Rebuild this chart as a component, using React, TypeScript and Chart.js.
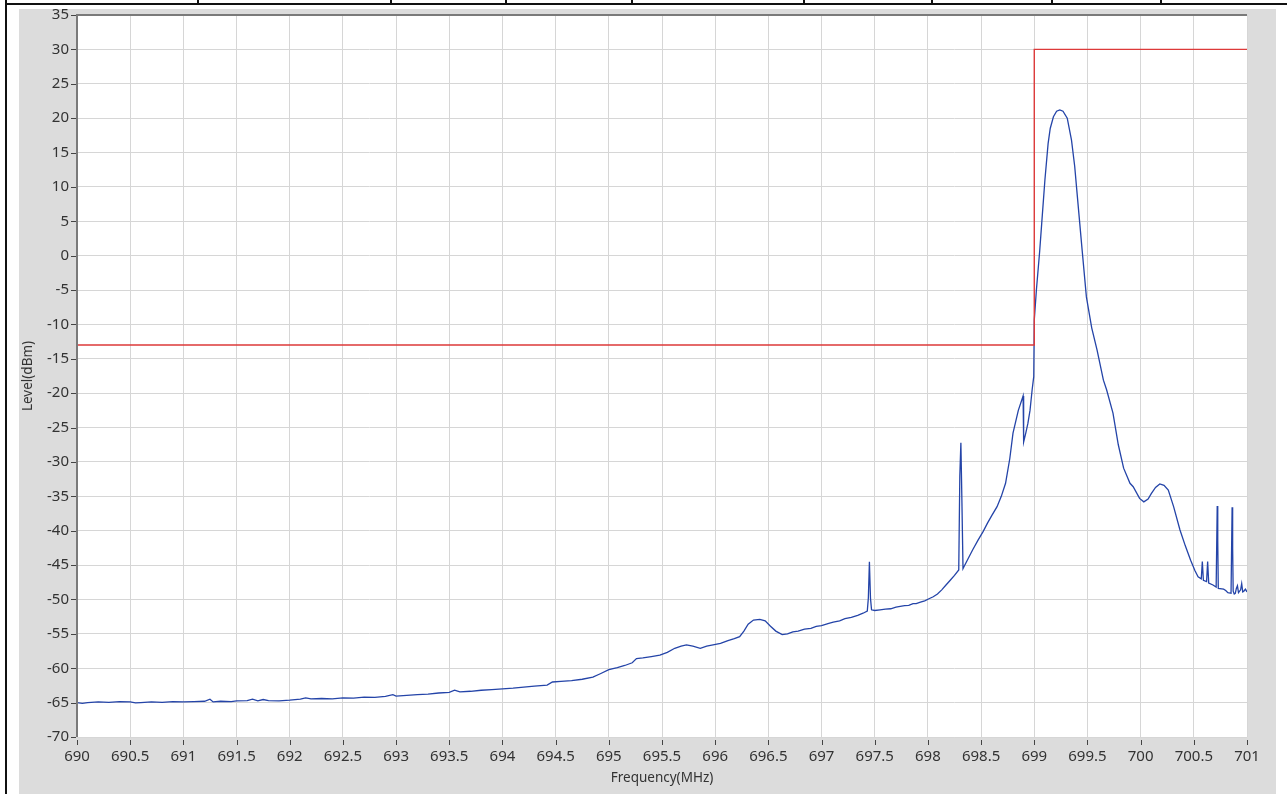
import React, { useEffect, useRef } from "react";
import { Chart, registerables } from "chart.js";

Chart.register(...registerables);

// ---- data ----
const xTickValues = [690, 690.5, 691, 691.5, 692, 692.5, 693, 693.5, 694, 694.5, 695, 695.5, 696, 696.5, 697, 697.5, 698, 698.5, 699, 699.5, 700, 700.5, 701];
const yTickValues = [35, 30, 25, 20, 15, 10, 5, 0, -5, -10, -15, -20, -25, -30, -35, -40, -45, -50, -55, -60, -65, -70];

const maskFreq = [690, 699, 699, 701];
const maskLevel = [-13, -13, 30, 30];

const specFreq = [
  690.0, 690.05, 690.1, 690.2, 690.3, 690.4, 690.5, 690.55, 690.6, 690.7, 690.8, 690.9, 691.0, 691.1, 691.2,
  691.25, 691.28, 691.35, 691.45, 691.5, 691.6, 691.65, 691.7, 691.75, 691.8, 691.9, 692.0, 692.1, 692.15, 692.2,
  692.3, 692.4, 692.5, 692.6, 692.7, 692.8, 692.9, 692.97, 693.0, 693.1, 693.2, 693.3, 693.4, 693.5, 693.55,
  693.6, 693.7, 693.8, 693.9, 694.0, 694.1, 694.2, 694.3, 694.42, 694.47, 694.55, 694.65, 694.75, 694.85, 694.92,
  695.0, 695.08, 695.15, 695.22, 695.26, 695.32, 695.4, 695.48, 695.55, 695.62, 695.68, 695.73, 695.79, 695.86, 695.92,
  695.98, 696.05, 696.12, 696.18, 696.23, 696.27, 696.31, 696.36, 696.42, 696.47, 696.52, 696.57, 696.63, 696.68, 696.73,
  696.78, 696.84, 696.9, 696.95, 697.0, 697.06, 697.11, 697.17, 697.22, 697.28, 697.34, 697.39, 697.43, 697.44, 697.45,
  697.46, 697.47, 697.5, 697.55, 697.6, 697.65, 697.7, 697.74, 697.78, 697.82, 697.86, 697.89, 697.93, 697.97, 698.01,
  698.05, 698.09, 698.13, 698.17, 698.21, 698.25, 698.29, 698.3, 698.31, 698.32, 698.33, 698.34, 698.38, 698.42, 698.47,
  698.52, 698.56, 698.6, 698.65, 698.69, 698.73, 698.77, 698.8, 698.85, 698.895, 698.9, 698.92, 698.94, 698.96, 698.98,
  698.995, 699.0, 699.02, 699.05, 699.07, 699.1, 699.13, 699.15, 699.18, 699.21, 699.24, 699.27, 699.31, 699.35, 699.38,
  699.4, 699.45, 699.49, 699.54, 699.59, 699.65, 699.68, 699.74, 699.79, 699.84, 699.9, 699.93, 699.99, 700.03, 700.07,
  700.1, 700.14, 700.18, 700.22, 700.26, 700.31, 700.37, 700.42, 700.47, 700.51, 700.54, 700.57, 700.58, 700.59, 700.62,
  700.63, 700.64, 700.68, 700.71, 700.72, 700.725, 700.73, 700.78, 700.8, 700.82, 700.85, 700.86, 700.865, 700.87, 700.88,
  700.89, 700.9, 700.91, 700.92, 700.94, 700.95, 700.96, 700.97, 700.985, 701.0,
];
const specLevel = [
  -65.0, -65.1, -65.0, -64.9, -64.95, -64.85, -64.9, -65.05, -65.0, -64.9, -64.95, -64.85, -64.9, -64.85, -64.8,
  -64.5, -64.9, -64.8, -64.85, -64.75, -64.7, -64.5, -64.75, -64.55, -64.7, -64.75, -64.65, -64.5, -64.3, -64.45,
  -64.4, -64.45, -64.3, -64.35, -64.2, -64.25, -64.1, -63.85, -64.05, -63.95, -63.85, -63.75, -63.6, -63.5, -63.2,
  -63.45, -63.35, -63.2, -63.1, -63.0, -62.9, -62.75, -62.6, -62.45, -62.0, -61.9, -61.8, -61.6, -61.3, -60.8,
  -60.2, -59.9, -59.6, -59.2, -58.6, -58.5, -58.3, -58.1, -57.7, -57.1, -56.8, -56.6, -56.8, -57.1, -56.8,
  -56.6, -56.4, -56.0, -55.7, -55.4, -54.6, -53.6, -53.0, -52.9, -53.1, -53.9, -54.6, -55.1, -55.0, -54.7,
  -54.6, -54.3, -54.2, -53.9, -53.8, -53.5, -53.3, -53.1, -52.8, -52.6, -52.3, -52.0, -51.7, -49.8, -44.5,
  -49.8, -51.5, -51.6, -51.5, -51.4, -51.35, -51.1, -51.0, -50.9, -50.85, -50.6, -50.6, -50.4, -50.2, -49.9,
  -49.6, -49.2, -48.6, -47.9, -47.2, -46.5, -45.7, -32.0, -27.2, -36.0, -45.5, -45.2, -44.0, -42.8, -41.4,
  -40.1, -38.9, -37.8, -36.5, -35.0, -33.1, -29.5, -25.8, -22.5, -20.4, -27.1, -25.8, -24.4, -22.5, -19.5,
  -17.6, -9.4, -5.0, 0.5, 4.7, 11.0, 16.3, 18.5, 20.2, 21.0, 21.2, 21.0, 20.0, 16.8, 13.0,
  9.5, 0.8, -6.0, -10.5, -13.7, -18.1, -19.5, -22.9, -27.5, -30.9, -33.1, -33.6, -35.3, -35.8, -35.4,
  -34.6, -33.7, -33.2, -33.4, -34.1, -36.5, -39.9, -42.2, -44.3, -45.8, -46.7, -47.0, -44.5, -47.2, -47.4,
  -44.5, -47.6, -47.9, -48.2, -36.4, -41.5, -48.4, -48.5, -48.7, -49.0, -49.1, -36.6, -42.5, -48.8, -49.2,
  -49.1, -48.4, -48.0, -49.0, -48.6, -47.7, -48.9, -48.8, -48.5, -48.9,
];

const topMarks = [197, 390, 505, 631, 803, 931, 1051, 1160];

const FONT = '"Noto Sans", "Open Sans", sans-serif';

const plotPlugin = {
  id: "plotDeco",
  beforeDraw(chart: any) {
    const { ctx, chartArea } = chart;
    const { left, top, right, bottom } = chartArea;
    ctx.save();
    ctx.fillStyle = "#ffffff";
    ctx.fillRect(left, top, right - left, bottom - top);
    ctx.restore();
  },
  afterDraw(chart: any) {
    const { ctx, chartArea, scales } = chart;
    const { left, top, right, bottom } = chartArea;
    ctx.save();
    ctx.strokeStyle = "#444444";
    ctx.lineWidth = 1;
    ctx.beginPath();
    for (const v of yTickValues) {
      const y = Math.round(scales.y.getPixelForValue(v)) + 0.5;
      ctx.moveTo(left - 6, y);
      ctx.lineTo(left - 1, y);
    }
    for (const v of xTickValues) {
      const x = Math.round(scales.x.getPixelForValue(v)) + 0.5;
      ctx.moveTo(x, bottom + 3);
      ctx.lineTo(x, bottom + 8);
    }
    ctx.stroke();
    ctx.strokeStyle = "#7a7a7a";
    ctx.lineWidth = 2;
    ctx.beginPath();
    ctx.moveTo(left, bottom);
    ctx.lineTo(left, top);
    ctx.lineTo(right, top);
    ctx.stroke();
    ctx.restore();
  },
};

export default function App() {
  const ref = useRef<HTMLCanvasElement | null>(null);

  useEffect(() => {
    if (!ref.current) return;
    const chart = new Chart(ref.current, {
      type: "line",
      data: {
        datasets: [
          {
            label: "Mask",
            data: maskFreq.map((f, i) => ({ x: f, y: maskLevel[i] })),
            borderColor: "#dd3a3a",
            borderWidth: 1.4,
            pointRadius: 0,
            tension: 0,
          },
          {
            label: "Spectrum",
            data: specFreq.map((f, i) => ({ x: f, y: specLevel[i] })),
            borderColor: "#2444a8",
            borderWidth: 1.3,
            pointRadius: 0,
            tension: 0,
          },
        ],
      },
      options: {
        animation: false,
        responsive: false,
        devicePixelRatio: 1,
        layout: { padding: { top: 6, right: 29, bottom: 0, left: 0 } },
        plugins: { legend: { display: false }, tooltip: { enabled: false } },
        scales: {
          x: {
            type: "linear",
            min: 690,
            max: 701,
            afterBuildTicks: (s: any) => {
              s.ticks = xTickValues.map((v) => ({ value: v }));
            },
            afterFit: (s: any) => {
              s.height = 57;
              s.paddingLeft = 0;
              s.paddingRight = 0;
            },
            grid: { color: "#d6d6d6", lineWidth: 1, drawTicks: false },
            border: { display: false },
            ticks: {
              padding: 11,
              maxRotation: 0,
              autoSkip: false,
              color: "#333333",
              font: { family: FONT, size: 15 },
              callback: (v: any) => String(v),
            },
            title: {
              display: true,
              text: "Frequency(MHz)",
              color: "#333333",
              font: { family: FONT, size: 13.5 },
              padding: { top: 0, bottom: 8 },
            },
          },
          y: {
            type: "linear",
            min: -70,
            max: 35,
            afterBuildTicks: (s: any) => {
              s.ticks = yTickValues.map((v) => ({ value: v }));
            },
            afterFit: (s: any) => {
              s.width = 58;
              s.paddingTop = 0;
              s.paddingBottom = 0;
            },
            grid: { color: "#d6d6d6", lineWidth: 1, drawTicks: false },
            border: { display: false },
            ticks: {
              padding: 8,
              autoSkip: false,
              color: "#333333",
              font: { family: FONT, size: 15 },
              callback: (v: any) => String(v),
            },
            title: {
              display: true,
              text: "Level(dBm)",
              color: "#333333",
              font: { family: FONT, size: 13.5 },
              padding: { top: 1, bottom: 0 },
            },
          },
        },
      },
      plugins: [plotPlugin],
    } as any);
    return () => chart.destroy();
  }, []);

  return (
    <div style={{ position: "absolute", left: 0, top: 0, width: 1287, height: 794, background: "#ffffff", overflow: "hidden" }}>
      <div style={{ position: "absolute", left: 5, top: 3, width: 1282, height: 2, background: "#111" }} />
      <div style={{ position: "absolute", left: 5, top: 0, width: 2, height: 794, background: "#111" }} />
      {topMarks.map((x) => (
        <div key={x} style={{ position: "absolute", left: x, top: 0, width: 2, height: 4, background: "#111" }} />
      ))}
      <div style={{ position: "absolute", left: 19, top: 9, width: 1257, height: 785, background: "#dcdcdc" }} />
      <canvas
        ref={ref}
        width={1257}
        height={785}
        style={{ position: "absolute", left: 19, top: 9, width: 1257, height: 785 }}
      />
    </div>
  );
}
